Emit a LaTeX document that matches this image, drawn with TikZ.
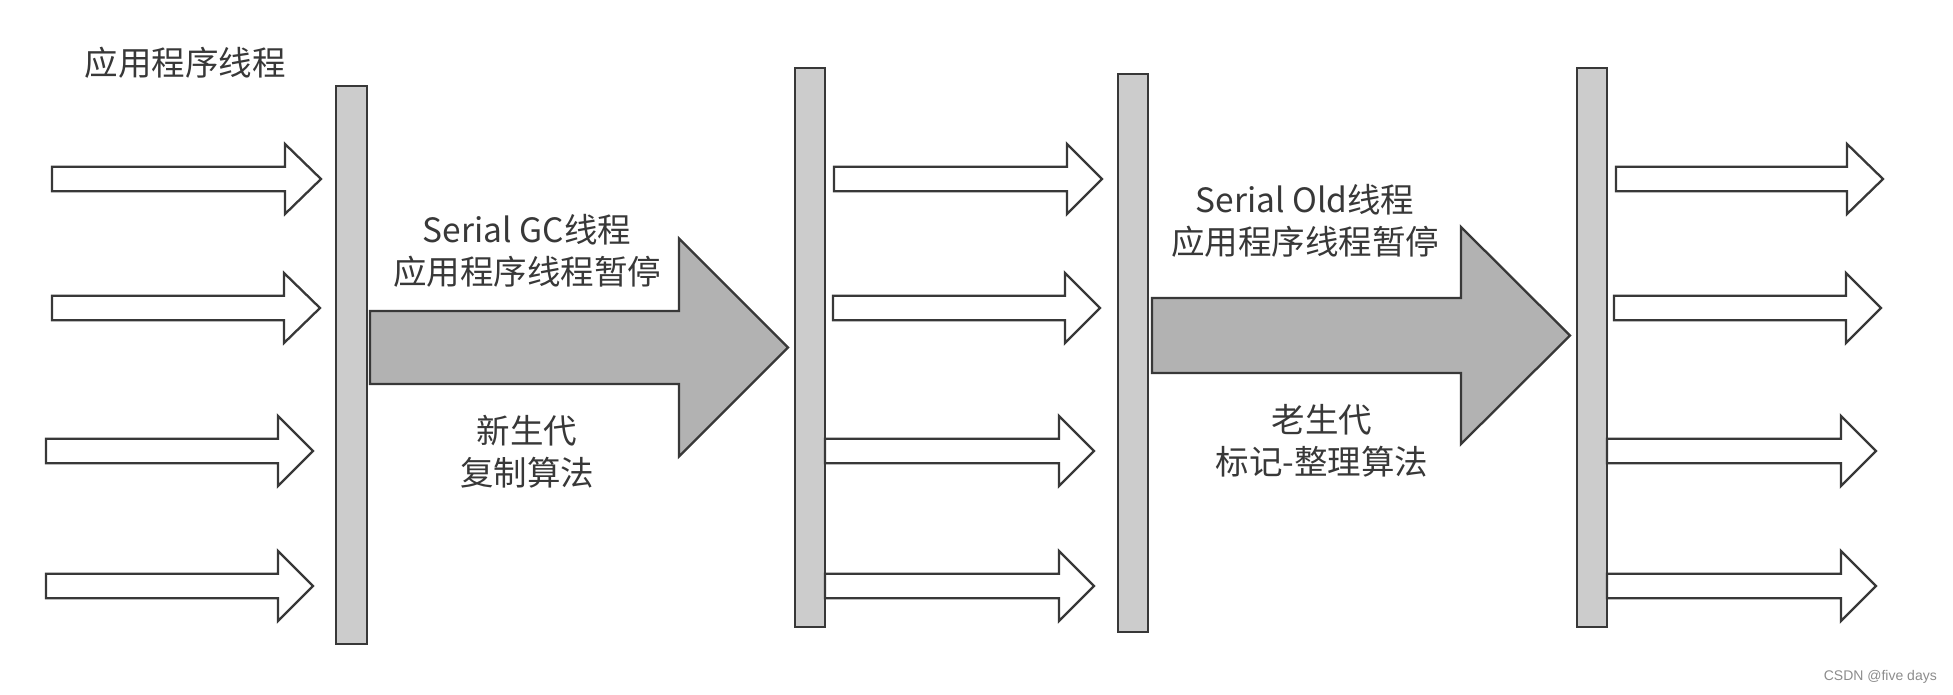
\documentclass[tikz,border=0pt]{standalone}
\usepackage{fontspec}
\newfontfamily\cjk{Noto Sans CJK SC}
\newfontfamily\wmfont{Liberation Sans}
\newcommand\blockarr[7]{%
  \draw[#7] (#1,#4-#5) -- (#2,#4-#5) -- (#2,#4-#6) -- (#3,#4) -- (#2,#4+#6) -- (#2,#4+#5) -- (#1,#4+#5) -- cycle;}
\newcommand\thinarr[4]{\blockarr{#1}{#2}{#3}{#4}{12.2}{35}{smallarr}}
\begin{document}
\begin{tikzpicture}[x=1pt,y=-1pt,
  barbox/.style={draw=black!78,line width=2.3pt,fill=black!20},
  smallarr/.style={draw=black!78,line width=2.3pt,fill=white},
  bigarr/.style={draw=black!78,line width=2.3pt,fill=black!30},
  lbl/.style={font=\cjk\fontsize{33.5}{42}\selectfont,text=black!78,align=center,inner sep=0pt},
  wm/.style={font=\wmfont\fontsize{14}{17}\selectfont,text=black!45,inner sep=0pt}]
\useasboundingbox (0,0) rectangle (1953,694);
% bars
\draw[barbox] (336,86) rectangle (367,644);
\draw[barbox] (795,68) rectangle (825,627);
\draw[barbox] (1118,74) rectangle (1148,632);
\draw[barbox] (1577,68) rectangle (1607,627);
% left column arrows
\thinarr{52}{285}{321}{179}
\thinarr{52}{284}{320}{308}
\thinarr{46}{278}{313}{451}
\thinarr{46}{278}{313}{586}
% middle column arrows
\thinarr{834}{1067}{1102}{179}
\thinarr{833}{1065}{1100}{308}
\thinarr{825}{1059}{1094}{451}
\thinarr{825}{1059}{1094}{586}
% right column arrows
\thinarr{1616}{1847}{1883}{179}
\thinarr{1614}{1846}{1881}{308}
\thinarr{1607}{1841}{1876}{451}
\thinarr{1607}{1841}{1876}{586}
% big arrows
\blockarr{370}{679}{788}{347.5}{36.5}{109}{bigarr}
\blockarr{1152}{1461}{1570}{335.5}{37.5}{108.5}{bigarr}
% labels
\node[lbl] (title) at (185,63) {应用程序线程};
\node[lbl] (gc1) at (527,251) {Serial GC线程\\应用程序线程暂停};
\node[lbl] (gc2) at (527,452) {新生代\\复制算法};
\node[lbl] (old1) at (1305,221) {Serial Old线程\\应用程序线程暂停};
\node[lbl] (old2) at (1322,441) {老生代\\标记-整理算法};
\node[wm,anchor=east] (wmark) at (1937,677) {CSDN @five days};
\end{tikzpicture}
\end{document}
